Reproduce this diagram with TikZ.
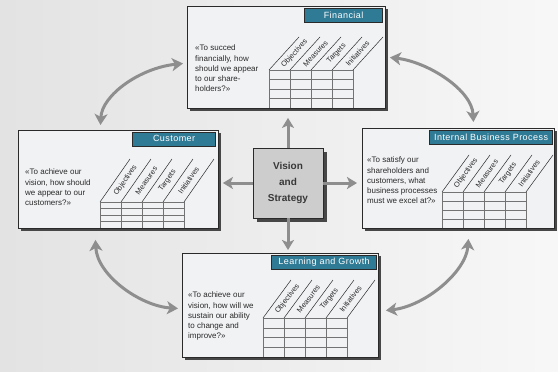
\documentclass[tikz,border=0pt]{standalone}
\usepackage{fontspec}
\setmainfont{Liberation Sans}
\usetikzlibrary{arrows.meta,calc}

\definecolor{tabblue}{HTML}{2F7A95}
\definecolor{arrowgray}{HTML}{8E8E8E}
\definecolor{boxfill}{HTML}{F1F2F4}
\definecolor{inkdark}{HTML}{2A2A2A}
\definecolor{visfill}{HTML}{CDCDCD}

\tikzset{
  card/.style={draw=inkdark, line width=0.9pt, fill=boxfill, inner sep=0pt, anchor=north west,
    preaction={fill=black!72, transform canvas={xshift=3pt,yshift=-3pt}}},
  visionbox/.style={draw=inkdark, line width=0.8pt, fill=visfill, inner sep=0pt,
    minimum width=70pt, minimum height=70pt, align=center, text=black!78,
    font=\fontsize{10}{16}\selectfont\bfseries,
    preaction={fill=black!72, transform canvas={xshift=4pt,yshift=-4pt}}},
  tab/.style={draw=inkdark, line width=0.6pt, fill=tabblue, text=white, inner sep=0pt,
    minimum height=14pt, anchor=north east,
    font=\fontsize{9}{9}\selectfont\addfontfeature{LetterSpace=5}},
  question/.style={anchor=north west, inner sep=0pt, align=left, text=inkdark,
    font=\fontsize{8}{10.2}\selectfont},
  colhead/.style={inner sep=0pt, text=inkdark, font=\fontsize{7.4}{7.4}\selectfont},
  gridline/.style={draw=black!55, line width=0.5pt},
  slant/.style={draw=inkdark, line width=0.5pt},
  link/.style={draw=arrowgray, line width=3pt,
    {Stealth[length=11pt,width=13pt,inset=3pt]}-{Stealth[length=11pt,width=13pt,inset=3pt]}},
  spoke/.style={draw=arrowgray, line width=3pt, -{Stealth[length=10pt,width=12pt,inset=2.5pt]}},
}

% measure table: #1,#2 top-left of the grid, #3 bottom, #4,#5 slant vector, #6 label angle
\newcommand{\bscgrid}[6]{%
  \foreach \i in {0,...,4}{%
    \draw[gridline] ({#1+\i*21},{#2}) -- ({#1+\i*21},{#3});
    \draw[slant] ({#1+\i*21},{#2}) -- ++({#4},{#5});
  }
  \foreach \j in {0,1,2,3}{%
    \draw[gridline] ({#1},{#2+\j*(#3-#2)/4}) -- ({#1+84},{#2+\j*(#3-#2)/4});
  }
  \foreach \lab [count=\k from 0] in {Objectives,Measures,Targets,Initiatives}{%
    \node[colhead, rotate=#6] at ({#1+\k*21+10.5+0.5*(#4)},{#2+0.5*(#5)}) {\lab};
  }
}

\begin{document}
\begin{tikzpicture}[x=1pt,y=-1pt]
\useasboundingbox (0,0) rectangle (558,372);
\shade[left color=black!11, right color=black!3] (0,0) rectangle (558,372);

% perspective cards
\node[card, minimum width=198pt, minimum height=102pt] (fin) at (187,6) {};
\node[card, minimum width=200pt, minimum height=98pt]  (cus) at (18,130) {};
\node[card, minimum width=192pt, minimum height=100pt] (ibp) at (362,128) {};
\node[card, minimum width=196pt, minimum height=104pt] (lg)  at (182,253) {};

\node[tab, minimum width=78pt]  (fintab) at ([xshift=-3pt,yshift=-1.5pt]fin.north east) {Financial};
\node[tab, minimum width=83pt]  (custab) at ([xshift=-3pt,yshift=-1.5pt]cus.north east) {Customer};
\node[tab, minimum width=123pt] (ibptab) at ([xshift=-2pt,yshift=-1.5pt]ibp.north east) {Internal Business Process};
\node[tab, minimum width=105pt] (lgtab)  at ([xshift=-2pt,yshift=-1.5pt]lg.north east)  {Learning and Growth};

\node[question] (finq) at (195,45) {«To succed\\financially, how\\should we appear\\to our share-\\holders?»};
\node[question] (cusq) at (25,169) {«To achieve our\\vision, how should\\we appear to our\\customers?»};
\node[question] (ibpq) at (367,157) {«To satisfy our\\shareholders and\\customers, what\\business processes\\must we excel at?»};
\node[question] (lgq)  at (188,292) {«To achieve our\\vision, how will we\\sustain our ability\\to change and\\improve?»};

\bscgrid{269}{70}{108}{30}{-33}{47}
\bscgrid{100}{202}{228}{30}{-43}{55}
\bscgrid{442}{192}{228}{27}{-37}{54}
\bscgrid{263}{318}{357}{28}{-38}{52}

% centre
\node[visionbox] (vis) at (288,183) {Vision\\and\\Strategy};

\draw[spoke, shorten >=9pt] (vis.north) -- (vis.north |- fin.south);
\draw[spoke, shorten >=4pt] (vis.west) -- (vis.west -| cus.east);
\draw[spoke, shorten >=5pt] (vis.east) -- (vis.east -| ibp.west);
\draw[spoke, shorten >=3pt] (vis.south) -- (vis.south |- lg.north);

% links between neighbouring perspectives
\draw[link] ([xshift=-18pt,yshift=5pt]cus.north) .. controls (102,95) and (140,68) .. ([xshift=-4pt,yshift=-6pt]fin.west);
\draw[link] ([xshift=4pt]fin.east) .. controls (428,62) and (472,90) .. ([xshift=15pt,yshift=6pt]ibp.north);
\draw[link] ([xshift=-23pt,yshift=-11pt]cus.south) .. controls (97,275) and (140,306) .. ([xshift=-4pt,yshift=-3pt]lg.west);
\draw[link] ([xshift=10pt,yshift=-10pt]ibp.south) .. controls (466,272) and (425,306) .. ([xshift=7pt,yshift=-5pt]lg.east);
\end{tikzpicture}
\end{document}
